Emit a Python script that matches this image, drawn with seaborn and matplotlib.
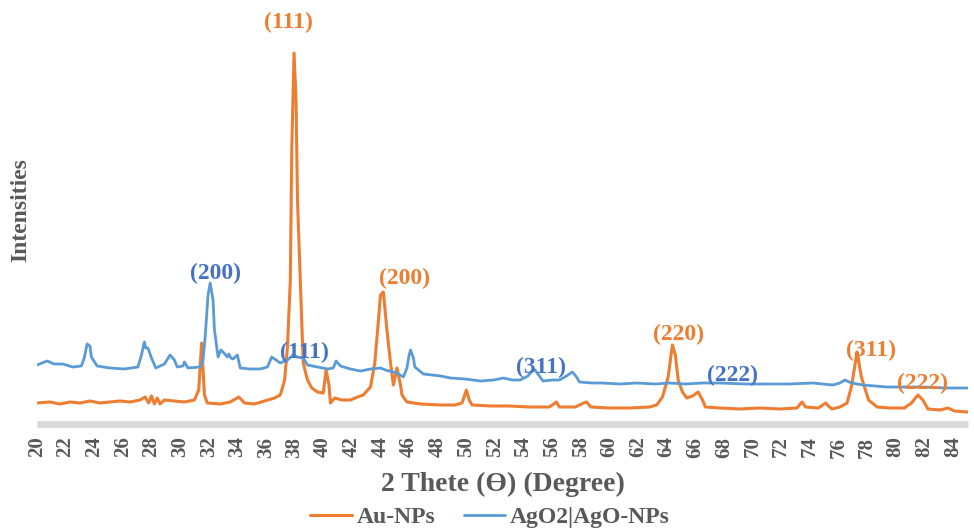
import numpy as np
import pandas as pd
import matplotlib
matplotlib.use("Agg")
import matplotlib.pyplot as plt
import seaborn as sns

# XRD traces (2 theta in degrees, intensity in a.u.)
au_theta = [20.0, 20.9, 21.6, 22.3, 23.0, 23.7, 24.4, 25.1, 25.8, 26.5, 27.2, 27.55, 27.8, 28.0,
            28.2, 28.4, 28.6, 28.9, 29.6, 30.3, 31.0, 31.3, 31.5, 31.7, 31.9, 32.8, 33.5, 34.1,
            34.5, 35.2, 35.9, 36.6, 37.0, 37.3, 37.5, 37.7, 37.8, 37.96, 38.1, 38.2, 38.4, 38.6,
            38.9, 39.2, 39.6, 40.0, 40.2, 40.4, 40.5, 40.8, 41.3, 41.9, 42.4, 42.8, 43.3, 43.6,
            43.8, 44.0, 44.2, 44.45, 44.7, 44.9, 45.15, 45.4, 45.5, 45.85, 46.8, 48.2, 49.2, 49.7,
            50.0, 50.2, 50.4, 51.7, 53.0, 54.4, 55.8, 56.3, 56.5, 57.6, 58.2, 58.4, 58.7, 60.0,
            61.4, 62.8, 63.3, 63.7, 64.1, 64.3, 64.4, 64.6, 64.8, 65.1, 65.4, 65.8, 66.2, 66.5,
            66.7, 67.7, 69.1, 70.5, 71.9, 73.1, 73.45, 73.7, 74.6, 75.1, 75.3, 75.55, 76.1, 76.6,
            76.9, 77.15, 77.3, 77.4, 77.6, 78.1, 78.7, 79.6, 80.6, 81.1, 81.55, 81.9, 82.25, 83.1,
            83.65, 84.1, 85.0]
au_int = [21, 22, 20, 22, 21, 23, 21, 22, 23, 22, 24, 27, 21, 28,
          20, 26, 20, 24, 23, 22, 24, 34, 81, 29, 21, 20, 22, 27,
          21, 20, 23, 26, 29, 44, 77, 144, 274, 371, 324, 224, 144, 61,
          44, 36, 32, 31, 54, 39, 21, 26, 24, 24, 27, 29, 37, 61,
          94, 129, 132, 94, 61, 39, 56, 39, 29, 22, 20, 19, 19, 21,
          34, 24, 19, 18, 18, 17, 17, 22, 17, 17, 21, 22, 17, 16,
          16, 17, 19, 27, 47, 69, 79, 69, 44, 32, 26, 28, 32, 24,
          17, 16, 15, 16, 15, 16, 22, 17, 16, 21, 18, 15, 17, 21,
          37, 59, 72, 64, 47, 24, 17, 16, 16, 21, 29, 24, 15, 14,
          16, 13, 12]

ag_theta = [20.0, 20.7, 21.2, 21.8, 22.5, 23.1, 23.3, 23.5, 23.7, 23.8, 24.2, 25.1, 26.1, 27.05,
            27.3, 27.5, 27.6, 27.75, 28.0, 28.3, 28.9, 29.3, 29.6, 29.8, 30.2, 30.3, 30.55, 31.4,
            31.6, 31.75, 31.95, 32.1, 32.3, 32.4, 32.65, 32.85, 33.0, 33.3, 33.4, 33.55, 33.7, 34.0,
            34.2, 34.9, 35.6, 36.1, 36.4, 36.7, 37.0, 37.5, 37.9, 38.2, 38.6, 38.9, 39.6, 40.3,
            40.7, 40.9, 41.2, 41.9, 42.6, 43.3, 44.0, 44.35, 45.15, 45.6, 45.85, 46.0, 46.1, 46.3,
            46.4, 47.0, 47.6, 48.2, 48.9, 49.9, 51.0, 51.9, 52.6, 53.2, 53.75, 54.3, 54.6, 54.8,
            55.1, 55.35, 56.0, 56.5, 57.0, 57.4, 57.7, 57.9, 58.8, 59.5, 60.7, 61.9, 63.2, 64.2,
            65.3, 66.5, 67.7, 69.5, 71.2, 72.6, 74.2, 75.6, 76.1, 76.45, 76.9, 77.7, 78.55, 79.4,
            80.6, 82.0, 83.4, 85.0]
ag_int = [59, 63, 60, 60, 57, 58, 66, 80, 78, 67, 58, 56, 55, 57,
          69, 82, 76, 76, 66, 56, 60, 69, 64, 57, 58, 62, 56, 57,
          64, 87, 129, 141, 124, 94, 67, 74, 72, 67, 70, 66, 65, 69,
          56, 55, 55, 57, 67, 64, 61, 64, 69, 67, 66, 59, 57, 55,
          56, 63, 58, 55, 53, 55, 56, 54, 51, 47, 56, 69, 74, 66,
          57, 50, 49, 48, 46, 45, 43, 44, 46, 44, 44, 48, 53, 54,
          48, 43, 44, 44, 48, 52, 47, 42, 41, 41, 40, 41, 40, 41,
          40, 41, 41, 40, 40, 40, 41, 39, 41, 44, 41, 39, 38, 37,
          37, 37, 36, 36]

# peak labels (Miller indices) and where they sit
au_hkl = ["(111)", "(200)", "(220)", "(311)", "(222)"]
au_hkl_x = [37.6, 45.7, 64.8, 78.3, 81.9]
au_hkl_y = [402, 146, 90, 74, 41]
ag_hkl = ["(200)", "(111)", "(311)", "(222)"]
ag_hkl_x = [32.5, 38.7, 55.2, 68.6]
ag_hkl_y = [151, 72, 57, 49]

ticks = list(range(20, 86, 2))

orange = "#ED7D31"
blue = "#5B9BD5"
blue_txt = "#4472C4"
grey = "#595959"

sns.set_style("white")
plt.rcParams['font.family'] = ['Liberation Serif', 'DejaVu Serif']
plt.rcParams['font.weight'] = 'bold'

fig = plt.figure(figsize=(9.74, 5.32), dpi=100)
ax = fig.add_axes([37 / 974, 108 / 532, 931 / 974, 414 / 532])

df_au = pd.DataFrame({'theta': au_theta, 'I': au_int})
df_ag = pd.DataFrame({'theta': ag_theta, 'I': ag_int})

sns.lineplot(data=df_au, x='theta', y='I', color=orange, lw=2.2, ax=ax,
             estimator=None, sort=False, label='Au-NPs')
sns.lineplot(data=df_ag, x='theta', y='I', color=blue, lw=2.0, ax=ax,
             estimator=None, sort=False, label='AgO2|AgO-NPs')

for t, x, y in zip(au_hkl, au_hkl_x, au_hkl_y):
    ax.text(x, y, t, color=orange, fontsize=17, fontweight='bold',
            ha='center', va='center', clip_on=False)
for t, x, y in zip(ag_hkl, ag_hkl_x, ag_hkl_y):
    ax.text(x, y, t, color=blue_txt, fontsize=17, fontweight='bold',
            ha='center', va='center', clip_on=False)

ax.set_xlim(20, 85.05)
ax.set_ylim(0, 414)
ax.set_xticks(ticks)
ax.set_xticklabels([str(t) for t in ticks], rotation=90, fontsize=15,
                   fontweight='bold', color=grey)
ax.tick_params(axis='x', length=0, pad=9)
ax.set_yticks([])

for s in ['top', 'right', 'left']:
    ax.spines[s].set_visible(False)
ax.spines['bottom'].set_color('#D9D9D9')
ax.spines['bottom'].set_linewidth(5)
ax.spines['bottom'].set_capstyle('butt')

ax.set_xlabel("2 Thete (Ө) (Degree)", fontsize=20, fontweight='bold', color=grey)
ax.xaxis.set_label_coords(0.5, -0.145)
ax.xaxis.label.set_va('center')
ax.set_ylabel("Intensities", fontsize=17, fontweight='bold', color=grey)
ax.yaxis.set_label_coords(-0.018, 0.517)
ax.yaxis.label.set_va('center')

handles, labels = ax.get_legend_handles_labels()
ax.get_legend().remove()
leg = fig.legend(handles, labels, loc='center', bbox_to_anchor=(0.503, 0.028),
                 ncol=2, frameon=False, handlelength=1.75, handletextpad=0.2,
                 columnspacing=1.2, prop={'size': 17, 'weight': 'bold'})
for txt in leg.get_texts():
    txt.set_color(grey)

fig.savefig("out.png", dpi=100)
